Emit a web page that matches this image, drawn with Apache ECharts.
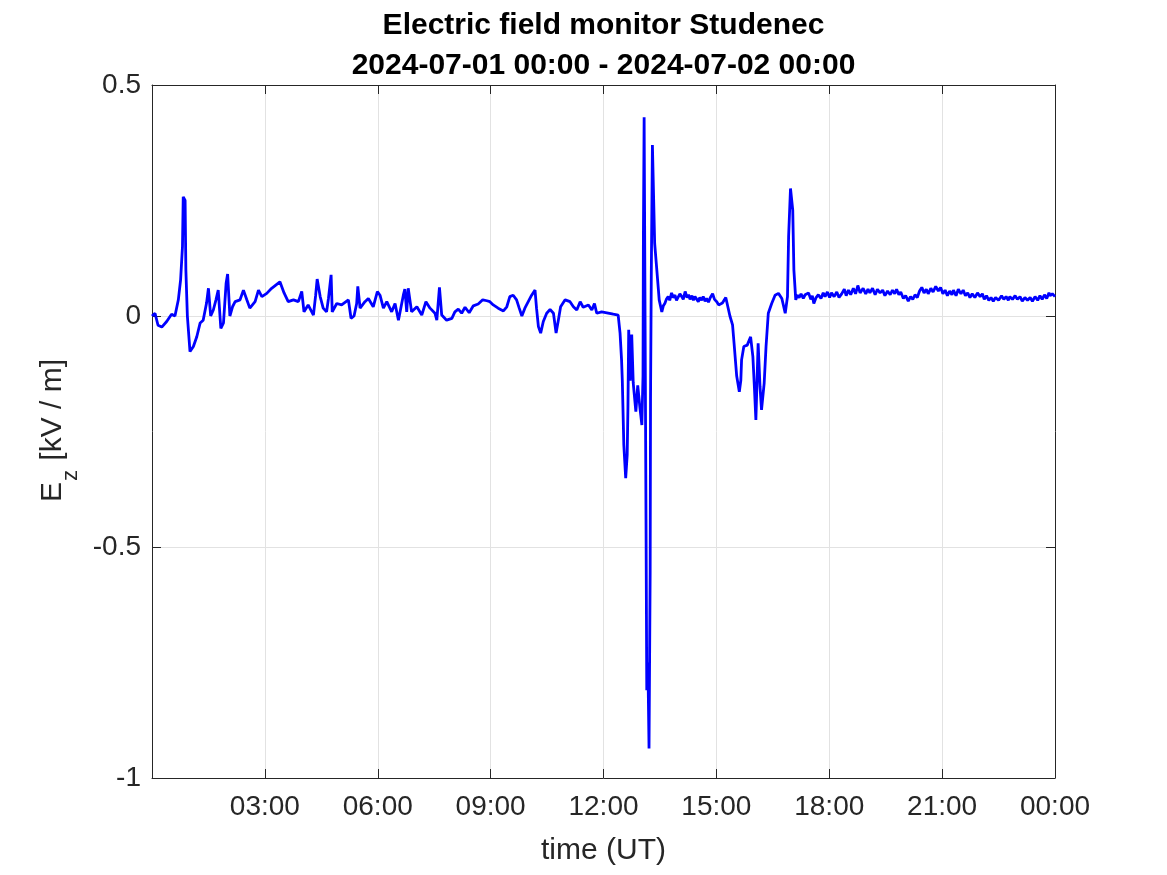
<!DOCTYPE html>
<html>
<head>
<meta charset="utf-8">
<script src="https://cdn.jsdelivr.net/npm/echarts@6/dist/echarts.min.js"></script>
<style>
html,body{margin:0;padding:0;background:#fff;}
#chart{width:1167px;height:875px;}
</style>
</head>
<body>
<div id="chart"></div>
<script>
// time in hours UT since 2024-07-01 00:00
const hours = [
0.00,0.08,0.16,0.26,0.39,0.52,0.61,0.70,0.76,0.81,0.83,0.88,0.90,0.94,1.01,1.10,1.19,1.28,1.36,1.45,
1.50,1.56,1.63,1.70,1.76,1.83,1.90,1.97,2.01,2.07,2.14,2.21,2.34,2.43,2.52,2.60,2.74,2.83,2.92,3.05,
3.18,3.40,3.51,3.62,3.76,3.89,3.98,4.04,4.15,4.29,4.35,4.39,4.47,4.55,4.64,4.69,4.76,4.79,4.91,5.04,
5.22,5.29,5.37,5.44,5.47,5.53,5.66,5.75,5.88,5.99,6.06,6.15,6.24,6.37,6.46,6.55,6.68,6.72,6.77,6.81,
6.90,7.04,7.17,7.28,7.39,7.52,7.57,7.64,7.70,7.83,7.97,8.05,8.14,8.23,8.32,8.43,8.54,8.67,8.79,8.90,
8.98,9.07,9.20,9.34,9.43,9.51,9.60,9.69,9.76,9.83,9.91,10.00,10.09,10.18,10.22,10.27,10.33,10.40,10.49,10.58,
10.67,10.74,10.80,10.86,10.98,11.11,11.20,11.29,11.38,11.46,11.60,11.69,11.76,11.82,11.95,12.09,12.26,12.39,12.44,12.48,
12.50,12.54,12.59,12.63,12.65,12.67,12.71,12.75,12.79,12.86,12.91,12.97,13.02,13.05,13.06,13.08,13.12,13.13,13.15,13.18,
13.21,13.24,13.25,13.27,13.30,13.34,13.36,13.41,13.46,13.48,
13.55,13.59,13.63,13.67,13.72,13.76,13.81,13.85,13.90,13.94,
13.99,14.03,14.08,14.12,14.17,14.22,14.26,14.30,14.35,14.39,
14.43,14.48,14.52,14.56,14.61,14.65,14.70,14.74,14.79,14.84,
14.90,14.95,15.01,15.06,15.11,15.16,15.20,15.25,15.29,
15.36,15.43,15.47,15.54,15.61,15.65,15.67,15.73,15.82,15.91,15.97,
16.01,16.05,16.11,16.16,16.20,16.27,16.32,16.38,16.47,16.56,16.65,16.74,16.83,16.89,16.92,16.97,17.03,17.06,
17.11,17.15,17.20,17.25,17.31,17.36,17.40,17.45,17.51,17.55,17.59,17.65,17.71,17.78,17.84,17.89,17.95,18.01,18.06,18.13,
18.20,18.26,18.33,18.40,18.45,18.51,18.57,18.64,18.70,18.76,18.82,18.90,18.97,19.03,19.08,19.15,19.22,19.28,19.35,19.42,
19.48,19.55,19.62,19.68,19.74,19.79,19.85,19.90,19.97,20.03,20.10,20.16,20.22,20.28,20.34,20.40,20.46,20.52,20.58,20.63,
20.70,20.76,20.83,20.90,20.96,21.02,21.08,21.14,21.20,21.26,21.30,21.37,21.43,21.50,21.56,21.62,21.68,21.74,21.80,21.87,
21.94,22.01,22.07,22.12,22.18,22.24,22.30,22.36,22.42,22.50,22.58,22.64,22.70,22.76,22.80,22.87,22.94,23.00,23.07,23.13,
23.20,23.27,23.34,23.40,23.47,23.54,23.60,23.66,23.72,23.78,23.84,23.87,23.93,24.00
];
// vertical electric field Ez in kV/m
const ez = [
0.000,0.006,-0.020,-0.024,-0.012,0.004,0.000,0.035,0.078,0.150,0.258,0.250,0.100,0.000,-0.077,-0.066,-0.045,-0.015,-0.009,0.028,
0.060,0.000,0.013,0.035,0.056,-0.027,-0.015,0.071,0.091,0.000,0.020,0.031,0.035,0.056,0.035,0.017,0.031,0.056,0.042,0.049,
0.060,0.074,0.050,0.031,0.035,0.031,0.053,0.009,0.024,0.002,0.045,0.080,0.042,0.017,0.009,0.038,0.089,0.009,0.027,0.024,
0.035,-0.005,0.000,0.027,0.064,0.017,0.031,0.038,0.020,0.053,0.045,0.017,0.031,0.009,0.027,-0.009,0.045,0.058,0.009,0.060,
0.009,0.020,0.002,0.031,0.017,0.006,-0.009,0.062,0.002,-0.009,-0.005,0.009,0.015,0.006,0.019,0.007,0.022,0.026,0.035,0.033,
0.031,0.024,0.017,0.011,0.020,0.042,0.045,0.035,0.017,0.000,0.017,0.031,0.045,0.056,0.017,-0.023,-0.037,-0.012,0.006,0.014,
0.006,-0.037,-0.009,0.020,0.035,0.031,0.020,0.013,0.031,0.019,0.024,0.013,0.027,0.006,0.009,0.007,0.004,0.002,-0.037,-0.095,
-0.140,-0.279,-0.351,-0.300,-0.196,-0.030,-0.140,-0.040,-0.145,-0.207,-0.150,-0.200,-0.236,-0.130,0.165,0.430,0.430,-0.440,-0.810,-0.750,
-0.936,-0.556,-0.180,0.085,0.370,0.370,0.157,0.107,0.056,0.035,
0.009,0.022,0.027,0.036,0.042,0.034,0.050,0.040,0.045,0.034,
0.038,0.048,0.042,0.036,0.053,0.040,0.046,0.036,0.044,0.034,
0.042,0.036,0.031,0.040,0.034,0.042,0.032,0.038,0.030,0.040,
0.048,0.036,0.031,0.024,0.020,0.028,0.031,0.040,0.038,
0.000,-0.019,-0.059,-0.130,-0.164,-0.139,-0.095,-0.066,-0.063,-0.045,-0.088,
-0.153,-0.225,-0.059,-0.153,-0.203,-0.146,-0.066,0.006,0.027,0.045,0.049,0.038,0.006,0.042,0.172,0.276,0.229,0.100,
0.035,0.045,0.040,0.048,0.038,0.046,0.042,0.050,0.036,0.044,0.027,0.040,0.046,0.038,0.050,0.042,0.052,0.040,0.050,0.042,
0.052,0.040,0.048,0.058,0.044,0.056,0.046,0.060,0.048,0.066,0.050,0.060,0.048,0.058,0.050,0.060,0.046,0.058,0.050,0.056,
0.044,0.054,0.046,0.056,0.048,0.058,0.046,0.052,0.038,0.044,0.032,0.042,0.036,0.046,0.040,0.054,0.062,0.050,0.058,0.048,
0.060,0.052,0.064,0.054,0.062,0.048,0.056,0.044,0.054,0.046,0.056,0.044,0.058,0.048,0.056,0.044,0.050,0.040,0.048,0.040,
0.050,0.042,0.048,0.036,0.044,0.034,0.040,0.032,0.040,0.034,0.044,0.036,0.042,0.034,0.042,0.036,0.044,0.036,0.042,0.032,
0.040,0.034,0.040,0.032,0.042,0.034,0.044,0.036,0.046,0.038,0.050,0.044,0.048,0.042
];
const xTickLabels = ['', '03:00', '06:00', '09:00', '12:00', '15:00', '18:00', '21:00', '00:00'];
const yTickLabels = {'-1': '-1', '-0.5': '-0.5', '0': '0', '0.5': '0.5'};
const titleLines = ['Electric field monitor Studenec', '2024-07-01 00:00 - 2024-07-02 00:00'];

const FONT = '"Liberation Sans", Arial, Helvetica, sans-serif';
const AX = '#262626';
const GRIDC = '#e2e2e2';

const seriesData = hours.map((h, i) => [h, ez[i]]);

const chart = echarts.init(document.getElementById('chart'), null, {renderer: 'canvas'});
const baseX = {
  type: 'value', min: 0, max: 24, interval: 3,
  axisLine: {show: true, onZero: false, lineStyle: {color: AX, width: 1}},
  axisTick: {show: true, inside: true, length: 9, lineStyle: {color: AX, width: 1}}
};
const baseY = {
  type: 'value', min: -1, max: 0.5, interval: 0.5,
  axisLine: {show: true, onZero: false, lineStyle: {color: AX, width: 1}},
  axisTick: {show: true, inside: true, length: 9, lineStyle: {color: AX, width: 1}}
};
chart.setOption({
  animation: false,
  backgroundColor: '#ffffff',
  grid: {left: 152, right: 112, top: 85, bottom: 97, containLabel: false},
  graphic: [
    {
      type: 'text', x: 603.5, y: 6,
      style: {text: titleLines.join('\n'), fill: '#000', font: 'bold 30px ' + FONT, lineHeight: 40, align: 'center', verticalAlign: 'top'}
    },
    {
      type: 'group', x: 53, y: 502, rotation: Math.PI / 2,
      children: [
        {type: 'text', x: 0, y: 0, style: {text: 'E', fill: AX, font: '30px ' + FONT, align: 'left', verticalAlign: 'middle'}},
        {type: 'text', x: 21, y: 18, style: {text: 'z', fill: AX, font: '22px ' + FONT, align: 'left', verticalAlign: 'middle'}},
        {type: 'text', x: 33, y: 0, style: {text: ' [kV / m]', fill: AX, font: '30px ' + FONT, align: 'left', verticalAlign: 'middle'}}
      ]
    }
  ],
  xAxis: [
    Object.assign({}, baseX, {
      position: 'bottom',
      name: 'time (UT)', nameLocation: 'middle', nameGap: 58,
      nameTextStyle: {color: AX, fontSize: 30, fontFamily: FONT},
      axisLabel: {show: true, color: AX, fontSize: 28, fontFamily: FONT, margin: 15,
        showMinLabel: true, showMaxLabel: true,
        formatter: v => xTickLabels[Math.round(v / 3)]},
      splitLine: {show: true, lineStyle: {color: GRIDC, width: 1}}
    }),
    Object.assign({}, baseX, {
      position: 'top', axisLabel: {show: false}, splitLine: {show: false}
    })
  ],
  yAxis: [
    Object.assign({}, baseY, {
      position: 'left',
      axisLabel: {show: true, color: AX, fontSize: 28, fontFamily: FONT, margin: 11,
        showMinLabel: true, showMaxLabel: true,
        formatter: v => yTickLabels[String(v)] !== undefined ? yTickLabels[String(v)] : String(v)},
      splitLine: {show: true, lineStyle: {color: GRIDC, width: 1}}
    }),
    Object.assign({}, baseY, {
      position: 'right', axisLabel: {show: false}, splitLine: {show: false}
    })
  ],
  series: [{
    type: 'line', xAxisIndex: 0, yAxisIndex: 0,
    data: seriesData, showSymbol: false, symbol: 'none', sampling: null,
    lineStyle: {color: '#0000ff', width: 2.8}, itemStyle: {color: '#0000ff'},
    emphasis: {disabled: true}, z: 5
  }]
});
</script>
</body>
</html>
